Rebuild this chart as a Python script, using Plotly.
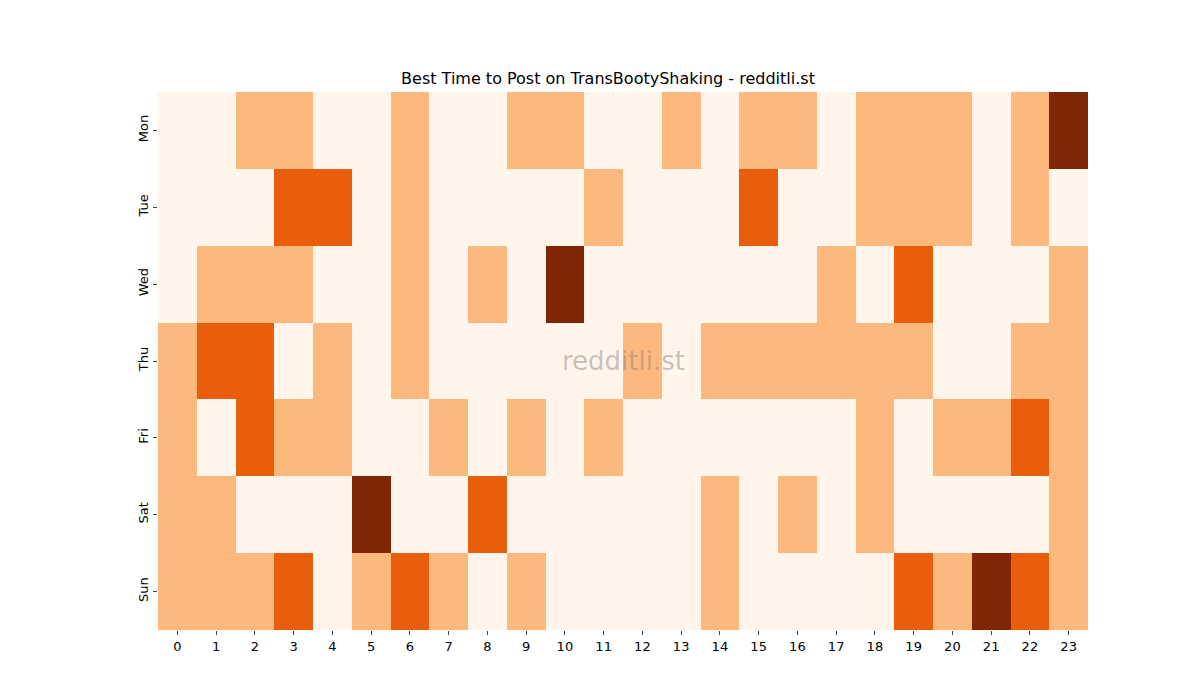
import plotly.graph_objects as go

days = ["Mon", "Tue", "Wed", "Thu", "Fri", "Sat", "Sun"]
hours = list(range(24))
mon = [0,0,1,1,0,0,1,0,0,1,1,0,0,1,0,1,1,0,1,1,1,0,1,3]
tue = [0,0,0,2,2,0,1,0,0,0,0,1,0,0,0,2,0,0,1,1,1,0,1,0]
wed = [0,1,1,1,0,0,1,0,1,0,3,0,0,0,0,0,0,1,0,2,0,0,0,1]
thu = [1,2,2,0,1,0,1,0,0,0,0,0,1,0,1,1,1,1,1,1,0,0,1,1]
fri = [1,0,2,1,1,0,0,1,0,1,0,1,0,0,0,0,0,0,1,0,1,1,2,1]
sat = [1,1,0,0,0,3,0,0,2,0,0,0,0,0,1,0,1,0,1,0,0,0,0,1]
sun = [1,1,1,2,0,1,2,1,0,1,0,0,0,0,1,0,0,0,0,2,1,3,2,1]
z = [mon, tue, wed, thu, fri, sat, sun]

cs = [[0, "#fff5eb"], [0.125, "#fff5eb"], [0.125, "#fdb97d"], [0.5, "#fdb97d"],
      [0.5, "#e95e0d"], [0.875, "#e95e0d"], [0.875, "#7f2704"], [1, "#7f2704"]]

fig = go.Figure(go.Heatmap(z=z, x=hours, y=days, colorscale=cs, zmin=0, zmax=3,
                           showscale=False, xgap=0, ygap=0))
fig.update_layout(
    width=1200, height=700, plot_bgcolor="white", paper_bgcolor="white",
    margin=dict(l=150, r=120, t=84, b=78),
    font=dict(family="DejaVu Sans", size=13, color="black"),
    title=dict(text="Best Time to Post on TransBootyShaking - redditli.st", x=0.5, xanchor="center",
               y=1 - 70/700, yanchor="middle", font=dict(size=16)),
    xaxis=dict(tickmode="array", tickvals=hours, ticks="outside", ticklen=4, showgrid=False,
               zeroline=False),
    yaxis=dict(autorange="reversed", ticks="outside", ticklen=4, tickangle=-90, showgrid=False,
               zeroline=False),
    annotations=[dict(text="redditli.st", x=0.5, y=0.5, xref="paper", yref="paper",
                      showarrow=False, font=dict(size=26, color="rgba(128,128,128,0.45)"))],
)
fig.write_html("out.html")
